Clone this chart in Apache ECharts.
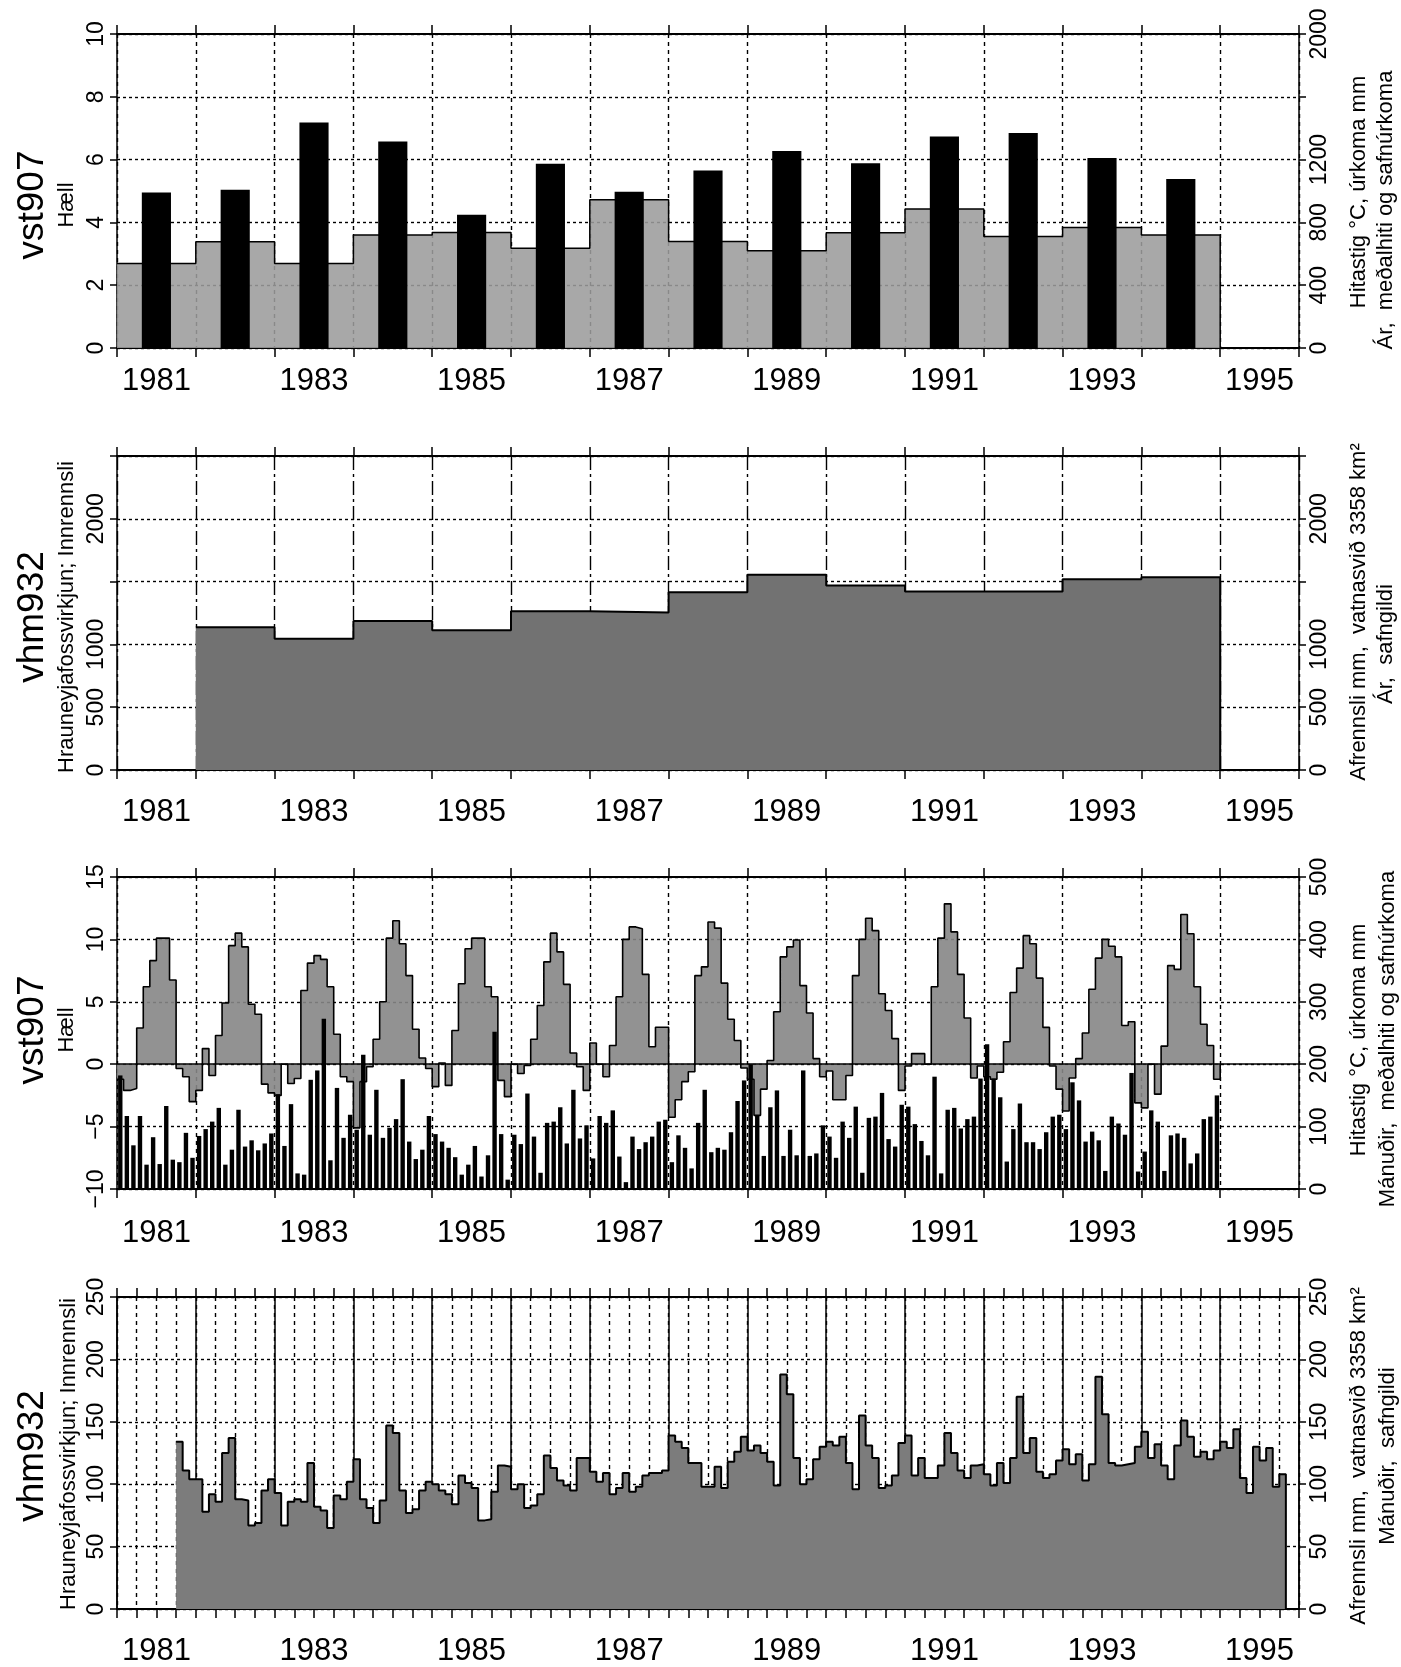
<!DOCTYPE html>
<html>
<head>
<meta charset="utf-8">
<script src="https://cdn.jsdelivr.net/npm/echarts@6/dist/echarts.min.js"></script>
<style>
html, body { margin: 0; padding: 0; background: #fff; }
#chart { width: 1401px; height: 1667px; }
</style>
</head>
<body>
<div id="chart"></div>
<script>
// x labels, one category per year (only odd years are written)
var yearLabels = ['1981', '', '1983', '', '1985', '', '1987', '', '1989', '', '1991', '', '1993', '', '1995'];

// tick labels that are printed (others left blank like the original)
var p1LeftTicks = [0, 2, 4, 6, 8, 10];
var p1RightTicks = [0, 400, 800, 1200, 2000];
var p2Ticks = [0, 500, 1000, 2000];

// vst907, yearly mean temperature (°C) 1981-1994
var annualTemp = [2.69, 3.38, 2.69, 3.6, 3.68, 3.18, 4.72, 3.39, 3.1, 3.67, 4.43, 3.55, 3.84, 3.6];
// vst907, yearly precipitation (mm) 1981-1994
var annualPrecip = [991, 1008, 1437, 1316, 849, 1174, 996, 1131, 1255, 1176, 1347, 1370, 1210, 1076];
// vhm932, yearly runoff (mm) 1982-1994
var annualRunoff = [1137, 1044, 1187, 1113, 1264, 1254, 1416, 1554, 1469, 1421, 1421, 1519, 1535];

// vst907, monthly mean temperature (°C), Jan 1981 - Dec 1994
var monthTemp = [
  -1.2, -2.1, -1.95, 2.9, 6.2, 8.3, 10.1, 10.1, 6.75, -0.35, -1.0, -3.0,
  -2.1, 1.25, -0.9, 2.3, 4.9, 9.5, 10.5, 9.4, 4.8, 4.0, -1.6, -2.3,
  -2.5, 0.0, -1.55, -1.15, 5.9, 8.1, 8.7, 8.4, 6.2, 2.4, -1.0, -1.4,
  -5.1, -1.4, -0.2, 2.0, 5.0, 10.1, 11.5, 9.65, 7.1, 2.8, 0.5, -0.35,
  -1.8, 0.1, -1.7, 2.7, 6.45, 9.25, 10.1, 10.1, 6.2, 5.4, -1.3, -2.6,
  0.0, -0.75, -0.1, 2.0, 4.7, 8.2, 10.5, 9.0, 6.4, 0.9, -0.2, -2.1,
  1.7, 0.0, -1.0, 1.5, 5.4, 10.0, 11.0, 10.85, 7.2, 1.4, 2.96, 2.96,
  -4.25, -2.85, -1.4, -0.6, 7.1, 7.8, 11.4, 10.9, 6.5, 3.6, 1.9, -0.3,
  -1.2, -4.1, -2.0, 0.3, 4.2, 8.6, 9.4, 9.95, 6.3, 4.1, 0.45, -1.0,
  -0.55, -2.85, -2.85, -0.9, 7.1, 10.0, 11.7, 10.7, 5.65, 4.3, 2.05, -2.1,
  -0.15, 0.85, 0.85, 0.0, 6.2, 10.1, 12.85, 10.6, 7.2, 3.7, -1.1, -0.15,
  -1.0, -1.2, -0.65, 1.8, 5.75, 7.7, 10.3, 9.65, 6.9, 2.95, -0.15, -2.0,
  -3.75, -1.1, 0.45, 2.5, 6.0, 8.5, 10.0, 9.45, 8.6, 3.1, 3.4, -3.1,
  -3.5, 0.0, -2.4, 1.45, 7.9, 7.6, 12.0, 10.45, 6.2, 3.2, 1.5, -1.2
];

// vst907, monthly precipitation (mm), Jan 1981 - Dec 1994
var monthPrecip = [
  182, 117, 70, 117, 39, 83, 40, 133, 47, 43, 90, 50,
  85, 96, 108, 130, 39, 63, 127, 68, 78, 62, 73, 89,
  152, 69, 136, 25, 23, 175, 190, 273, 46, 162, 82, 119,
  95, 215, 87, 159, 82, 98, 112, 176, 76, 48, 63, 117,
  88, 76, 66, 51, 23, 39, 69, 20, 54, 252, 88, 15,
  87, 72, 153, 84, 26, 106, 108, 131, 73, 159, 81, 102,
  49, 117, 106, 126, 52, 11, 84, 64, 75, 84, 108, 111,
  43, 86, 66, 33, 106, 159, 59, 66, 63, 91, 141, 174,
  200, 117, 53, 131, 158, 53, 95, 54, 190, 53, 57, 102,
  84, 50, 108, 82, 132, 26, 114, 116, 154, 80, 68, 135,
  132, 104, 77, 54, 180, 25, 127, 130, 97, 112, 116, 177,
  232, 177, 147, 44, 96, 137, 75, 75, 64, 91, 116, 119,
  96, 171, 142, 76, 92, 78, 29, 116, 105, 87, 186, 28,
  60, 126, 108, 29, 86, 89, 82, 41, 57, 112, 116, 150
];

// vhm932, monthly runoff (mm), Oct 1981 - Oct 1995
var monthRunoff = [
  134, 111, 104,
  104, 78, 92, 86, 125, 137, 88, 87, 67, 69, 95, 104,
  93, 67, 86, 88, 86, 117, 82, 79, 65, 91, 88, 102,
  120, 88, 81, 69, 87, 147, 141, 95, 77, 80, 95, 102,
  100, 95, 92, 84, 107, 101, 97, 71, 72, 94, 115, 114,
  96, 100, 81, 83, 92, 123, 113, 103, 99, 95, 121, 121,
  110, 102, 109, 92, 97, 109, 94, 98, 107, 109, 109, 111,
  139, 134, 129, 117, 117, 98, 98, 114, 97, 118, 126, 138,
  127, 131, 125, 118, 99, 188, 172, 121, 100, 104, 120, 130,
  134, 131, 138, 117, 96, 155, 131, 121, 97, 99, 107, 133,
  139, 107, 121, 105, 105, 115, 141, 125, 111, 105, 115, 116,
  108, 99, 117, 101, 121, 170, 125, 137, 110, 105, 108, 119,
  128, 116, 124, 103, 116, 186, 156, 117, 115, 116, 117, 130,
  142, 121, 132, 115, 104, 131, 151, 138, 122, 126, 120, 127,
  134, 129, 144, 105, 93, 130, 119, 129, 98, 108
];

var FONT = '"Liberation Sans", Arial, sans-serif';

// x is counted in months from Jan 1981
function stepData(values, start, span) {
    var pts = values.map(function (v, i) { return [start + i * span, v]; });
    pts.push([start + values.length * span, 0]);
    return pts;
}
function barData(values, start, span) {
    return values.map(function (v, i) { return [start + i * span + span / 2, v]; });
}
function fmt(shown) {
    return function (v) {
        if (shown && shown.indexOf(v) < 0) return '';
        return v < 0 ? '\u2212' + (-v) : String(v);
    };
}

function bottomAxis(g, interval, dash) {
    return {
        type: 'value', gridIndex: g, min: 0, max: 180, interval: interval, position: 'bottom',
        axisLine: { onZero: false, lineStyle: { color: '#000', width: 2 } },
        axisTick: { length: 9, lineStyle: { color: '#000', width: 1.5 } },
        axisLabel: { show: false },
        splitLine: { show: true, lineStyle: { color: '#000', width: 1.4, type: dash } }
    };
}
function topAxis(g, interval) {
    return {
        type: 'value', gridIndex: g, min: 0, max: 180, interval: interval, position: 'top',
        axisLine: { onZero: false, lineStyle: { color: '#000', width: 2 } },
        axisTick: { length: 9, lineStyle: { color: '#000', width: 1.5 } },
        axisLabel: { show: false },
        splitLine: { show: false }
    };
}
function labelAxis(g, margin) {
    return {
        type: 'category', gridIndex: g, position: 'bottom', data: yearLabels, boundaryGap: true,
        axisLine: { show: false }, axisTick: { show: false }, splitLine: { show: false },
        axisLabel: { interval: 0, margin: margin, fontSize: 31, color: '#000', fontFamily: FONT }
    };
}
function yAxisFor(g, pos, min, max, interval, shown, grid) {
    return {
        type: 'value', gridIndex: g, position: pos, min: min, max: max, interval: interval,
        axisLine: { show: true, onZero: false, lineStyle: { color: '#000', width: 1.5 } },
        axisTick: { show: true, length: 7, lineStyle: { color: '#000', width: 1.5 } },
        axisLabel: { rotate: 90, margin: 9, fontSize: 23, color: '#000', fontFamily: FONT, formatter: fmt(shown) },
        splitLine: { show: grid, lineStyle: { color: '#000', width: 1.4, type: [3, 3] } }
    };
}
function vtext(x, y, text, size) {
    return {
        type: 'text', x: x, y: y, rotation: Math.PI / 2, silent: true,
        style: { text: text, font: size + 'px ' + FONT, fill: '#000', textAlign: 'center', textVerticalAlign: 'middle', align: 'center', verticalAlign: 'middle' }
    };
}

var myChart = echarts.init(document.getElementById('chart'));
myChart.setOption({
    animation: false,
    backgroundColor: '#fff',
    grid: [
        { left: 117, right: 102, top: 34, height: 314 },
        { left: 117, right: 102, top: 456, height: 314 },
        { left: 117, right: 102, top: 877, height: 312 },
        { left: 117, right: 102, top: 1297, height: 313 }
    ],
    xAxis: [
        bottomAxis(0, 12, [4, 4]), topAxis(0, 12), labelAxis(0, 18),
        bottomAxis(1, 12, [14, 4, 3, 4]), topAxis(1, 12), labelAxis(1, 27),
        bottomAxis(2, 12, [4, 4]), topAxis(2, 12), labelAxis(2, 29),
        bottomAxis(3, 3, [4, 4]), topAxis(3, 3), labelAxis(3, 27),
        // solid year lines of the bottom panel
        {
            type: 'value', gridIndex: 3, min: 0, max: 180, interval: 12,
            axisLine: { show: false }, axisTick: { show: false }, axisLabel: { show: false },
            splitLine: { show: true, lineStyle: { color: '#000', width: 1.5, type: 'solid' } }
        }
    ],
    yAxis: [
        yAxisFor(0, 'left', 0, 10, 2, p1LeftTicks, true),
        yAxisFor(0, 'right', 0, 2000, 400, p1RightTicks, false),
        yAxisFor(1, 'left', 0, 2500, 500, p2Ticks, true),
        yAxisFor(1, 'right', 0, 2500, 500, p2Ticks, false),
        yAxisFor(2, 'left', -10, 15, 5, null, true),
        yAxisFor(2, 'right', 0, 500, 100, null, false),
        yAxisFor(3, 'left', 0, 250, 50, null, true),
        yAxisFor(3, 'right', 0, 250, 50, null, false)
    ],
    series: [
        {
            name: 'Ár meðalhiti', type: 'line', xAxisIndex: 0, yAxisIndex: 0, step: 'end',
            symbol: 'none', data: stepData(annualTemp, 0, 12), z: 2,
            lineStyle: { color: '#000', width: 1.5 },
            areaStyle: { color: '#9c9c9c', opacity: 0.88 }
        },
        {
            name: 'Ár úrkoma', type: 'bar', xAxisIndex: 2, yAxisIndex: 1,
            data: annualPrecip.concat([null]), barWidth: '37%', z: 3,
            itemStyle: { color: '#000' }
        },
        {
            name: 'Ár afrennsli', type: 'line', xAxisIndex: 3, yAxisIndex: 2, step: 'end',
            symbol: 'none', data: stepData(annualRunoff, 12, 12), z: 2,
            lineStyle: { color: '#000', width: 2 },
            areaStyle: { color: '#727272', opacity: 1 }
        },
        {
            name: 'Mánuðir meðalhiti', type: 'line', xAxisIndex: 6, yAxisIndex: 4, step: 'end',
            symbol: 'none', data: stepData(monthTemp, 0, 1), z: 2,
            lineStyle: { color: '#000', width: 1.6 },
            areaStyle: { color: '#868686', opacity: 0.9, origin: 'auto' },
            markLine: {
                silent: true, symbol: ['none', 'none'], label: { show: false },
                lineStyle: { color: '#000', width: 1.6, type: 'solid' },
                data: [{ yAxis: 0 }]
            }
        },
        {
            name: 'Mánuðir úrkoma', type: 'bar', xAxisIndex: 6, yAxisIndex: 5,
            data: barData(monthPrecip, 0, 1), barWidth: 4.4, z: 3,
            itemStyle: { color: '#000' }
        },
        {
            name: 'Mánuðir afrennsli', type: 'line', xAxisIndex: 9, yAxisIndex: 6, step: 'end',
            symbol: 'none', data: stepData(monthRunoff, 9, 1), z: 2,
            lineStyle: { color: '#000', width: 2 },
            areaStyle: { color: '#7c7c7c', opacity: 1 }
        }
    ],
    graphic: [
        vtext(33, 205, 'vst907', 37), vtext(67, 205, 'Hæll', 22),
        vtext(1359, 192, 'Hitastig °C, úrkoma mm', 22), vtext(1386, 210, 'Ár,  meðalhiti og safnúrkoma', 22),
        vtext(33, 617, 'vhm932', 37), vtext(67, 617, 'Hrauneyjafossvirkjun; Innrennsli', 22),
        vtext(1359, 612, 'Afrennsli mm,  vatnasvið 3358 km²', 22), vtext(1386, 644, 'Ár,  safngildi', 22),
        vtext(33, 1030, 'vst907', 37), vtext(67, 1030, 'Hæll', 22),
        vtext(1359, 1040, 'Hitastig °C, úrkoma mm', 22), vtext(1388, 1039, 'Mánuðir,  meðalhiti og safnúrkoma', 22),
        vtext(33, 1456, 'vhm932', 37), vtext(69, 1454, 'Hrauneyjafossvirkjun; Innrennsli', 22),
        vtext(1359, 1456, 'Afrennsli mm,  vatnasvið 3358 km²', 22), vtext(1388, 1456, 'Mánuðir,  safngildi', 22)
    ]
});
</script>
</body>
</html>
